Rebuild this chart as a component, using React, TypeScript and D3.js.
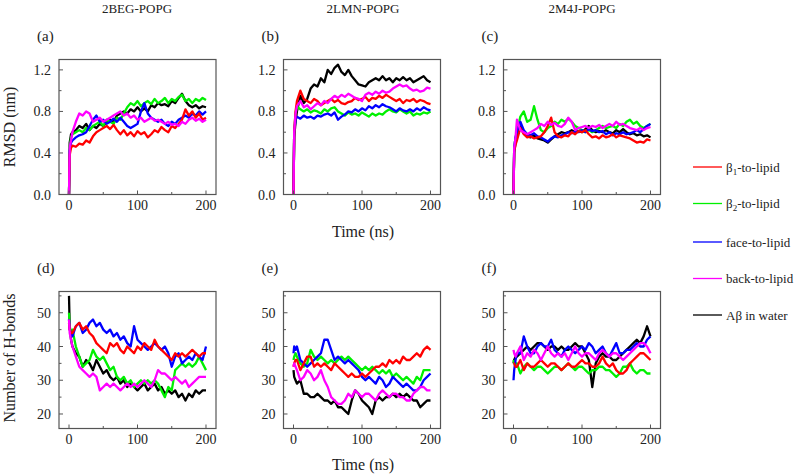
import React from "react";
import * as d3 from "d3";

const T = [0,1,3,5,10,15,20,25,30,35,40,45,50,55,60,65,70,75,80,85,90,95,100,105,110,115,120,125,130,135,140,145,150,155,160,165,170,175,180,185,190,195,200];

const seriesNames = ["β1-to-lipid", "β2-to-lipid", "face-to-lipid", "back-to-lipid", "Aβ in water"];
const seriesColors = ["#ff0000", "#00f000", "#0000ff", "#ff00ff", "#000000"];
const systems = ["2BEG-POPG", "2LMN-POPG", "2M4J-POPG"];
const panelLetters = ["(a)", "(b)", "(c)", "(d)", "(e)", "(f)"];
const xTicks = [0, 100, 200];
const xMinor = [50, 150];
const rmsdTicks = [0, 0.4, 0.8, 1.2];
const rmsdMinor = [0.2, 0.6, 1.0];
const hbTicks = [20, 30, 40, 50];
const hbMinor = [25, 35, 45, 55];

// RMSD (nm) - 2BEG
const rA_b1 = [0,0.38,0.45,0.47,0.46,0.49,0.48,0.52,0.5,0.56,0.6,0.62,0.64,0.66,0.63,0.67,0.62,0.58,0.62,0.57,0.6,0.56,0.61,0.58,0.6,0.55,0.58,0.62,0.6,0.65,0.62,0.6,0.66,0.64,0.68,0.72,0.82,0.76,0.8,0.74,0.78,0.72,0.74];
const rA_b2 = [0,0.45,0.55,0.58,0.6,0.62,0.6,0.64,0.62,0.66,0.68,0.7,0.66,0.72,0.7,0.68,0.74,0.72,0.78,0.84,0.88,0.86,0.9,0.85,0.88,0.9,0.87,0.92,0.88,0.9,0.93,0.88,0.92,0.9,0.94,0.96,0.9,0.92,0.88,0.92,0.9,0.93,0.91];
const rA_face = [0,0.42,0.5,0.52,0.55,0.57,0.58,0.6,0.66,0.72,0.76,0.7,0.72,0.68,0.7,0.73,0.7,0.74,0.7,0.66,0.64,0.66,0.68,0.8,0.88,0.78,0.74,0.72,0.7,0.72,0.68,0.66,0.7,0.68,0.72,0.74,0.76,0.74,0.78,0.76,0.8,0.77,0.8];
const rA_back = [0,0.45,0.52,0.6,0.7,0.78,0.76,0.8,0.78,0.7,0.72,0.74,0.7,0.72,0.74,0.76,0.78,0.8,0.76,0.78,0.74,0.76,0.72,0.74,0.7,0.72,0.74,0.71,0.72,0.7,0.68,0.7,0.67,0.68,0.66,0.7,0.68,0.72,0.74,0.71,0.73,0.7,0.72];
const rA_water = [0,0.5,0.58,0.6,0.62,0.66,0.64,0.68,0.62,0.66,0.64,0.68,0.66,0.7,0.72,0.7,0.76,0.78,0.8,0.78,0.82,0.8,0.84,0.8,0.83,0.8,0.86,0.84,0.88,0.86,0.87,0.85,0.9,0.88,0.93,0.97,0.9,0.86,0.84,0.86,0.83,0.85,0.84];

// RMSD (nm) - 2LMN
const rB_b1 = [0,0.6,0.8,0.9,1.0,0.92,0.9,0.88,0.92,0.9,0.86,0.88,0.9,0.92,0.89,0.91,0.88,0.87,0.89,0.9,0.93,0.91,0.92,0.94,0.9,0.93,0.92,0.95,0.93,0.96,0.94,0.92,0.9,0.92,0.88,0.91,0.9,0.92,0.89,0.91,0.9,0.88,0.87];
const rB_b2 = [0,0.6,0.78,0.85,0.82,0.8,0.82,0.79,0.81,0.8,0.78,0.82,0.8,0.83,0.84,0.8,0.78,0.76,0.79,0.77,0.78,0.76,0.79,0.77,0.75,0.78,0.76,0.78,0.77,0.8,0.82,0.8,0.79,0.82,0.8,0.78,0.8,0.76,0.78,0.77,0.79,0.78,0.8];
const rB_face = [0,0.6,0.72,0.75,0.73,0.76,0.74,0.75,0.73,0.76,0.75,0.77,0.78,0.76,0.79,0.72,0.75,0.77,0.8,0.79,0.82,0.8,0.83,0.81,0.85,0.83,0.86,0.84,0.87,0.85,0.84,0.82,0.8,0.83,0.81,0.8,0.82,0.8,0.83,0.81,0.84,0.82,0.81];
const rB_back = [0,0.6,0.78,0.85,0.9,0.84,0.86,0.82,0.85,0.88,0.86,0.9,0.88,0.92,0.95,0.93,0.96,0.94,0.97,0.95,0.93,0.92,0.9,0.96,0.98,0.96,0.99,0.97,1.0,0.98,0.99,1.02,1.04,1.06,1.04,1.05,1.02,1.0,1.01,0.99,1.0,1.03,1.02];
const rB_water = [0,0.55,0.7,0.8,0.95,0.88,0.92,1.02,1.06,1.04,1.12,1.08,1.2,1.16,1.22,1.25,1.18,1.15,1.2,1.14,1.1,1.06,1.05,1.04,1.08,1.1,1.12,1.1,1.14,1.1,1.12,1.08,1.12,1.1,1.13,1.1,1.12,1.08,1.1,1.12,1.14,1.1,1.08];

// RMSD (nm) - 2M4J
const rC_b1 = [0,0.42,0.48,0.52,0.64,0.58,0.55,0.56,0.54,0.55,0.56,0.6,0.66,0.74,0.6,0.56,0.55,0.57,0.56,0.6,0.58,0.61,0.6,0.62,0.58,0.55,0.56,0.54,0.57,0.55,0.56,0.58,0.55,0.57,0.56,0.55,0.54,0.52,0.5,0.51,0.5,0.53,0.52];
const rC_b2 = [0,0.45,0.55,0.6,0.75,0.8,0.7,0.72,0.85,0.72,0.62,0.6,0.64,0.66,0.7,0.68,0.72,0.7,0.73,0.7,0.66,0.64,0.62,0.6,0.62,0.6,0.62,0.64,0.66,0.64,0.65,0.66,0.64,0.68,0.66,0.7,0.72,0.68,0.7,0.66,0.64,0.66,0.68];
const rC_face = [0,0.45,0.55,0.6,0.7,0.62,0.58,0.57,0.59,0.56,0.55,0.53,0.51,0.54,0.56,0.55,0.57,0.58,0.6,0.59,0.61,0.6,0.62,0.6,0.63,0.61,0.62,0.6,0.61,0.58,0.6,0.57,0.59,0.58,0.6,0.58,0.59,0.6,0.62,0.6,0.63,0.66,0.68];
const rC_back = [0,0.45,0.55,0.72,0.62,0.6,0.58,0.6,0.62,0.64,0.68,0.66,0.7,0.67,0.69,0.66,0.65,0.68,0.74,0.7,0.62,0.64,0.65,0.66,0.64,0.66,0.65,0.67,0.64,0.66,0.68,0.66,0.7,0.67,0.68,0.66,0.64,0.63,0.62,0.64,0.62,0.64,0.65];
const rC_water = [0,0.4,0.5,0.55,0.66,0.6,0.56,0.55,0.57,0.54,0.53,0.52,0.5,0.53,0.56,0.58,0.6,0.59,0.6,0.62,0.6,0.61,0.6,0.63,0.66,0.62,0.6,0.61,0.6,0.62,0.6,0.59,0.62,0.6,0.63,0.6,0.58,0.59,0.57,0.58,0.56,0.57,0.55];

// H-bonds - 2BEG
const hD_b1 = [47,45,44,44,46,47,45,46,44,43,41,40,39,38,41,40,41,39,38,40,39,38,40,39,41,40,39,42,40,39,38,37,36,38,37,38,37,38,39,38,37,38,38];
const hD_b2 = [50,46,44,45,40,37,34,35,36,39,37,36,37,35,33,34,31,30,31,29,30,28,29,30,29,30,29,30,29,27,25,28,27,33,34,35,34,35,34,35,37,35,33];
const hD_face = [48,45,44,43,46,47,44,45,47,48,46,47,45,44,45,43,44,42,43,41,40,46,42,41,40,39,40,41,40,39,40,38,34,37,38,35,36,37,36,38,37,36,40];
const hD_back = [48,44,42,40,37,34,33,32,31,32,31,27,28,29,28,29,28,27,28,29,28,29,28,29,30,29,28,30,33,32,32,31,30,31,30,29,30,28,29,30,31,31,31];
const hD_water = [55,46,42,40,38,37,34,36,35,33,36,34,32,33,31,30,31,29,30,28,29,28,27,28,29,27,28,29,27,28,26,27,26,27,25,26,24,26,25,27,26,27,27];

// H-bonds - 2LMN
const hE_b1 = [34,35,36,36,33,35,37,37,34,35,34,35,34,33,35,34,33,32,31,32,31,31,32,31,32,33,34,34,35,34,36,35,36,35,37,36,36,37,38,37,39,40,39];
const hE_b2 = [36,37,38,37,35,34,35,39,37,36,37,36,35,36,35,36,37,36,37,36,35,34,33,34,33,34,33,32,33,32,33,31,32,31,30,31,30,29,31,30,33,33,33];
const hE_face = [38,40,39,40,36,35,34,35,36,37,38,42,42,39,36,37,36,35,36,35,34,33,31,30,31,30,29,31,30,28,29,31,30,29,28,29,28,27,27,28,30,31,32];
const hE_back = [34,35,34,33,30,31,33,32,30,31,33,30,28,25,24,23,23,24,26,25,27,26,25,26,26,25,24,26,27,26,25,26,26,25,25,24,24,26,27,28,28,27,27];
const hE_water = [33,31,30,29,30,26,26,25,25,26,25,24,24,23,24,22,22,21,20,24,27,26,24,23,22,20,24,25,24,25,25,26,25,26,25,26,25,24,24,22,23,24,24];

// H-bonds - 2M4J
const hF_b1 = [35,35,34,34,36,33,35,34,34,35,36,35,34,35,35,34,33,34,35,34,34,35,36,35,35,34,34,35,37,35,34,35,33,32,32,33,35,36,37,38,38,37,36];
const hF_b2 = [36,35,35,35,32,34,35,34,33,34,34,33,32,33,34,34,33,34,35,34,33,34,34,33,32,33,33,34,34,33,33,32,31,32,34,34,35,33,32,33,33,32,32];
const hF_face = [30,33,36,38,38,43,40,38,38,40,41,40,40,42,39,38,37,39,40,39,38,39,40,39,41,40,38,39,40,38,37,39,41,38,38,39,39,40,41,40,40,42,43];
const hF_back = [39,38,37,38,40,36,38,37,39,38,36,38,40,38,37,38,37,38,36,38,40,38,37,38,38,37,36,38,39,38,37,38,38,37,36,37,38,39,40,41,41,40,38];
const hF_water = [35,36,37,37,38,39,40,39,40,41,41,40,39,40,40,39,40,39,39,40,41,40,40,38,36,28,35,37,38,37,37,36,36,37,38,39,40,41,42,41,43,46,43];

const panelData = [
  [rA_b1, rA_b2, rA_face, rA_back, rA_water],
  [rB_b1, rB_b2, rB_face, rB_back, rB_water],
  [rC_b1, rC_b2, rC_face, rC_back, rC_water],
  [hD_b1, hD_b2, hD_face, hD_back, hD_water],
  [hE_b1, hE_b2, hE_face, hE_back, hE_water],
  [hF_b1, hF_b2, hF_face, hF_back, hF_water],
];

const FONT = "'Liberation Serif', 'DejaVu Serif', serif";
const TXT = "#222";
const AXC = "#555";
const colLefts = [59, 283.5, 503.5];
const PW = 157;
const rows = [
  { top: 59.5, bottom: 194.5, domain: [0, 1.3], ticks: rmsdTicks, minor: rmsdMinor, fmt: d3.format(".1f") },
  { top: 291.5, bottom: 428.5, domain: [15.7, 56.3], ticks: hbTicks, minor: hbMinor, fmt: d3.format("d") },
];
const drawOrder = [4, 1, 2, 0, 3];

function Panel({ idx }: { idx: number }) {
  const r = Math.floor(idx / 3);
  const c = idx % 3;
  const row = rows[r];
  const left = colLefts[c];
  const x = d3.scaleLinear().domain([-14.6, 214.6]).range([left, left + PW]);
  const y = d3.scaleLinear().domain(row.domain).range([row.bottom, row.top]);
  const line = d3.line<number>().x((_, i) => x(T[i])).y((v) => y(v));
  const data = panelData[idx];
  const clipId = `clip${idx}`;
  return (
    <g>
      <defs>
        <clipPath id={clipId}>
          <rect x={left} y={row.top} width={PW} height={row.bottom - row.top} />
        </clipPath>
      </defs>
      <g clipPath={`url(#${clipId})`}>
        {drawOrder.map((s) => (
          <path key={s} d={line(data[s]) || ""} fill="none" stroke={seriesColors[s]} strokeWidth={2.3} strokeLinejoin="round" />
        ))}
      </g>
      <rect x={left} y={row.top} width={PW} height={row.bottom - row.top} fill="none" stroke={AXC} strokeWidth={1.2} />
      {xTicks.map((t) => (
        <g key={"x" + t}>
          <line x1={x(t)} x2={x(t)} y1={row.bottom} y2={row.bottom - 4} stroke={AXC} strokeWidth={1} />
          <text x={x(t)} y={row.bottom + 15} textAnchor="middle" fontSize={14} fontFamily={FONT} fill={TXT}>{t}</text>
        </g>
      ))}
      {xMinor.map((t) => (
        <line key={"xm" + t} x1={x(t)} x2={x(t)} y1={row.bottom} y2={row.bottom - 2.5} stroke={AXC} strokeWidth={1} />
      ))}
      {row.ticks.map((t) => (
        <g key={"y" + t}>
          <line x1={left} x2={left + 4} y1={y(t)} y2={y(t)} stroke={AXC} strokeWidth={1} />
          <text x={left - 8} y={y(t) + 5} textAnchor="end" fontSize={14} fontFamily={FONT} fill={TXT}>{row.fmt(t)}</text>
        </g>
      ))}
      {row.minor.map((t) => (
        <line key={"ym" + t} x1={left} x2={left + 2.5} y1={y(t)} y2={y(t)} stroke={AXC} strokeWidth={1} />
      ))}
      <text x={left - 22} y={row.top - 19} fontSize={15} fontFamily={FONT} fill={TXT}>{panelLetters[idx]}</text>
    </g>
  );
}

function LegendLabel({ name }: { name: string }) {
  const m = name.match(/^β(\d)(.*)$/);
  if (m) {
    return (
      <>
        β<tspan fontSize={9} dy={3}>{m[1]}</tspan>
        <tspan dy={-3}>{m[2]}</tspan>
      </>
    );
  }
  return <>{name}</>;
}

export default function App() {
  const legendY = [167, 203.5, 242, 278.5, 315];
  return (
    <svg width={800} height={475} style={{ position: "absolute", left: 0, top: 0, background: "#fff" }}>
      <rect width={800} height={475} fill="#fff" />
      {systems.map((s, i) => (
        <text key={s} x={[137, 363, 582][i]} y={13} textAnchor="middle" fontSize={13} fontFamily={FONT} fill={TXT}>{s}</text>
      ))}
      {[0, 1, 2, 3, 4, 5].map((i) => (
        <Panel key={i} idx={i} />
      ))}
      <text x={363} y={237} textAnchor="middle" fontSize={16} fontFamily={FONT} fill={TXT}>Time (ns)</text>
      <text x={363} y={470} textAnchor="middle" fontSize={16} fontFamily={FONT} fill={TXT}>Time (ns)</text>
      <text transform="translate(15,127) rotate(-90)" textAnchor="middle" fontSize={16} fontFamily={FONT} fill={TXT}>RMSD (nm)</text>
      <text transform="translate(15,358) rotate(-90)" textAnchor="middle" fontSize={16} fontFamily={FONT} fill={TXT}>Number of H-bonds</text>
      {seriesNames.map((n, i) => (
        <g key={n}>
          <line x1={693} x2={722} y1={legendY[i]} y2={legendY[i]} stroke={seriesColors[i]} strokeWidth={1.3} />
          <text x={726} y={legendY[i] + 4.5} fontSize={13} fontFamily={FONT} fill={TXT}>
            <LegendLabel name={n} />
          </text>
        </g>
      ))}
    </svg>
  );
}
